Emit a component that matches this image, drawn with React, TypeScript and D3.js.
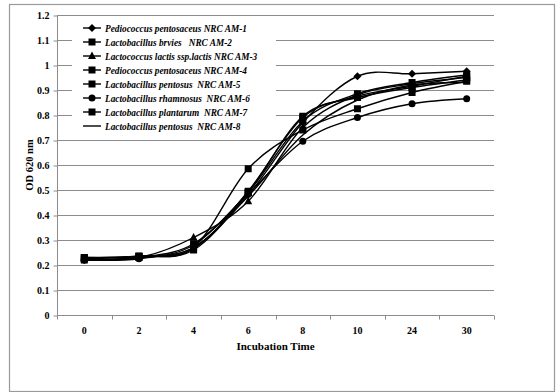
import * as d3 from "d3";
import React, { useEffect, useRef } from "react";

const times = ["0", "2", "4", "6", "8", "10", "24", "30"];
const yTicks = [0, 0.1, 0.2, 0.3, 0.4, 0.5, 0.6, 0.7, 0.8, 0.9, 1, 1.1, 1.2];

const am1 = [0.22, 0.23, 0.27, 0.48, 0.77, 0.955, 0.965, 0.975];
const am2 = [0.23, 0.235, 0.27, 0.585, 0.74, 0.825, 0.89, 0.935];
const am3 = [0.225, 0.23, 0.31, 0.455, 0.75, 0.88, 0.925, 0.95];
const am4 = [0.225, 0.235, 0.265, 0.495, 0.79, 0.875, 0.915, 0.955];
const am5 = [0.22, 0.23, 0.285, 0.49, 0.775, 0.885, 0.93, 0.96];
const am6 = [0.22, 0.225, 0.28, 0.485, 0.695, 0.79, 0.845, 0.865];
const am7 = [0.23, 0.235, 0.26, 0.49, 0.795, 0.87, 0.91, 0.94];
const am8 = [0.22, 0.23, 0.27, 0.475, 0.72, 0.86, 0.92, 0.93];

const seriesNames = [
  "Pediococcus pentosaceus NRC AM-1",
  "Lactobacillus brvies   NRC AM-2",
  "Lactococcus lactis ssp.lactis NRC AM-3",
  "Pediococcus pentosaceus NRC AM-4",
  "Lactobacillus pentosus  NRC AM-5",
  "Lactobacillus rhamnosus  NRC AM-6",
  "Lactobacillus plantarum  NRC AM-7",
  "Lactobacillus pentosus  NRC AM-8",
];
const seriesValues = [am1, am2, am3, am4, am5, am6, am7, am8];
const seriesMarkers = ["diamond", "square", "triangle", "square", "square", "circle", "square", "none"];

const font = "'Liberation Serif', 'Times New Roman', serif";

const App = () => {
  const ref = useRef<SVGSVGElement>(null);

  useEffect(() => {
    const width = 556;
    const height = 392;
    const left = 57, right = 494, top = 15, bottom = 315;

    const svg = d3.select(ref.current).attr("width", width).attr("height", height);
    svg.selectAll("*").remove();

    svg.append("rect").attr("width", width).attr("height", height).attr("fill", "#fff");
    // chart frame
    svg.append("rect")
      .attr("x", 9.5).attr("y", 4.5)
      .attr("width", 545).attr("height", 387)
      .attr("fill", "none").attr("stroke", "#999").attr("stroke-width", 1.2);

    const x = d3.scaleBand().domain(times).range([left, right]).padding(0);
    const y = d3.scaleLinear().domain([0, 1.2]).range([bottom, top]);

    // gridlines
    svg.append("g").selectAll("line").data(yTicks.slice(1)).enter().append("line")
      .attr("x1", left).attr("x2", right)
      .attr("y1", (d) => Math.round(y(d)) + 0.5).attr("y2", (d) => Math.round(y(d)) + 0.5)
      .attr("stroke", "#8c8c8c").attr("stroke-width", 1);

    // y axis
    const yAxis = svg.append("g").attr("transform", `translate(${left + 0.5},0.5)`)
      .call(d3.axisLeft(y).tickValues(yTicks).tickSize(4).tickPadding(4).tickFormat((d) => `${+d}`));
    yAxis.select(".domain").attr("stroke", "#8c8c8c").attr("d", `M0,${y(1.2)}V${y(0)}`);
    yAxis.selectAll("line").attr("stroke", "#8c8c8c");
    yAxis.selectAll("text")
      .attr("font-family", font).attr("font-weight", "bold").attr("font-size", "10px").attr("fill", "#000");

    // x axis
    const xAxis = svg.append("g").attr("transform", `translate(0,${Math.round(bottom) + 0.5})`);
    xAxis.append("line").attr("x1", left).attr("x2", right).attr("stroke", "#8c8c8c");
    xAxis.selectAll(".tk").data([...times.map((t) => x(t) as number), right]).enter().append("line")
      .attr("x1", (d) => Math.round(d) + 0.5).attr("x2", (d) => Math.round(d) + 0.5)
      .attr("y1", 0).attr("y2", 4).attr("stroke", "#8c8c8c");
    xAxis.selectAll("text").data(times).enter().append("text")
      .attr("x", (d) => (x(d) as number) + x.bandwidth() / 2)
      .attr("y", 18)
      .attr("text-anchor", "middle")
      .attr("font-family", font).attr("font-weight", "bold").attr("font-size", "10px")
      .text((d) => d);

    svg.append("text")
      .attr("x", (left + right) / 2).attr("y", 350)
      .attr("text-anchor", "middle")
      .attr("font-family", font).attr("font-weight", "bold").attr("font-size", "11px")
      .text("Incubation Time");

    svg.append("text")
      .attr("transform", `translate(33,${(top + bottom) / 2}) rotate(-90)`)
      .attr("text-anchor", "middle")
      .attr("font-family", font).attr("font-weight", "bold").attr("font-size", "10.5px")
      .text("OD 620 nm");

    const drawMarker = (g: any, kind: string, cx: number, cy: number) => {
      if (kind === "diamond") {
        g.append("path").attr("d", `M${cx},${cy - 4}L${cx + 4},${cy}L${cx},${cy + 4}L${cx - 4},${cy}Z`).attr("fill", "#000");
      } else if (kind === "square") {
        g.append("rect").attr("x", cx - 3.5).attr("y", cy - 3.5).attr("width", 7).attr("height", 7).attr("fill", "#000");
      } else if (kind === "triangle") {
        g.append("path").attr("d", `M${cx},${cy - 4.5}L${cx + 4},${cy + 3}L${cx - 4},${cy + 3}Z`).attr("fill", "#000");
      } else if (kind === "circle") {
        g.append("circle").attr("cx", cx).attr("cy", cy).attr("r", 3.5).attr("fill", "#000");
      }
    };

    const line = d3.line<number>()
      .x((_, i) => (x(times[i]) as number) + x.bandwidth() / 2)
      .y((d) => y(d))
      .curve(d3.curveCardinal.tension(0));

    const plot = svg.append("g");
    seriesValues.forEach((vals) => {
      plot.append("path").datum(vals)
        .attr("d", line).attr("fill", "none").attr("stroke", "#000").attr("stroke-width", 1.4);
    });
    seriesValues.forEach((vals, s) => {
      vals.forEach((v, i) => drawMarker(plot, seriesMarkers[s], (x(times[i]) as number) + x.bandwidth() / 2, y(v)));
    });

    // legend
    const legend = svg.append("g");
    legend.append("rect").attr("x", 72).attr("y", 19).attr("width", 204).attr("height", 117).attr("fill", "#fff");
    seriesNames.forEach((name, i) => {
      const ly = 28 + i * 14;
      legend.append("line").attr("x1", 83).attr("x2", 101).attr("y1", ly).attr("y2", ly)
        .attr("stroke", "#000").attr("stroke-width", 1.4);
      drawMarker(legend, seriesMarkers[i], 92, ly);
      legend.append("text")
        .attr("x", 105).attr("y", ly + 3.5)
        .attr("font-family", font).attr("font-weight", "bold").attr("font-style", "italic")
        .attr("font-size", "9.3px")
        .style("white-space", "pre")
        .text(name);
    });
  }, []);

  return <svg ref={ref} style={{ position: "absolute", left: 0, top: 0 }}></svg>;
};

export default App;
